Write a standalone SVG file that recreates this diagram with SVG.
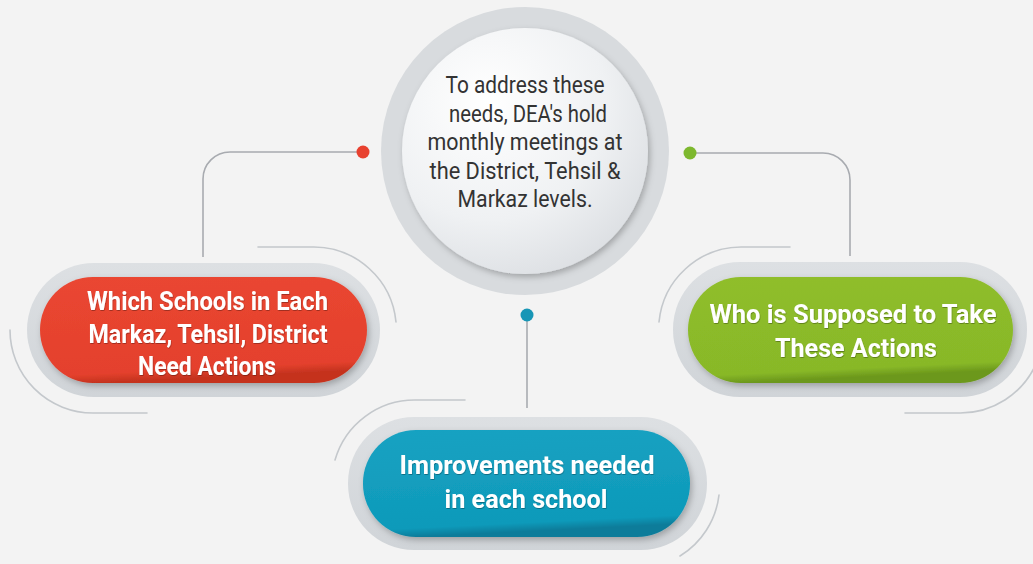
<svg xmlns="http://www.w3.org/2000/svg" width="1033" height="564" viewBox="0 0 1033 564">
<defs>
<style>
.bg{fill:#f3f3f3}
.band{fill:url(#bandG)}
.deco{fill:none;stroke:#c4c8cc;stroke-width:1.6;stroke-linecap:round}
.conn{fill:none;stroke:#a8abb0;stroke-width:1.6}
.pt{font-family:Roboto,"Liberation Sans",sans-serif;font-weight:bold;font-size:25px;fill:#ffffff;text-anchor:middle}
.ct{font-family:Roboto,"Liberation Sans",sans-serif;font-size:24px;fill:#333333;text-anchor:middle}
</style>
<linearGradient id="bandG" x1="0" y1="0" x2="0" y2="1">
<stop offset="0" stop-color="#dde0e3"/>
<stop offset="1" stop-color="#d0d4d8"/>
</linearGradient>
<linearGradient id="redG" x1="0" y1="0" x2="0.15" y2="1">
<stop offset="0" stop-color="#ea4631"/>
<stop offset="0.92" stop-color="#e4412d"/>
<stop offset="1" stop-color="#c5331f"/>
</linearGradient>
<linearGradient id="greenG" x1="0" y1="0" x2="0.15" y2="1">
<stop offset="0" stop-color="#90be2a"/>
<stop offset="0.92" stop-color="#88b828"/>
<stop offset="1" stop-color="#6c981c"/>
</linearGradient>
<linearGradient id="blueG" x1="0" y1="0" x2="0.15" y2="1">
<stop offset="0" stop-color="#16a2c2"/>
<stop offset="0.92" stop-color="#0f9aba"/>
<stop offset="1" stop-color="#0a7c9a"/>
</linearGradient>
<radialGradient id="circG" cx="0.35" cy="0.3" r="0.8">
<stop offset="0" stop-color="#ffffff"/>
<stop offset="0.6" stop-color="#eff1f3"/>
<stop offset="1" stop-color="#dadde1"/>
</radialGradient>
<filter id="sh" x="-20%" y="-20%" width="140%" height="150%">
<feDropShadow dx="2" dy="3" stdDeviation="3" flood-color="#000" flood-opacity="0.25"/>
</filter>
<filter id="tsh" x="-10%" y="-10%" width="120%" height="130%">
<feDropShadow dx="0.5" dy="1" stdDeviation="0.6" flood-color="#000" flood-opacity="0.3"/>
</filter>
</defs>
<rect class="bg" x="0" y="0" width="1033" height="564"/>

<g id="decorations">
<path class="deco" d="M10,330 A83,83 0 0 0 93,413 L147,413"/>
<path class="deco" d="M258,247 L314,247 A83,83 0 0 1 396,322"/>
<path class="deco" d="M790,247 L741,247 A83,83 0 0 0 659,322"/>
<path class="deco" d="M1036,364 A83,83 0 0 1 960,413 L905,413"/>
<path class="deco" d="M465,400 L416,400 A83,83 0 0 0 335,460"/>
<path class="deco" d="M719,495 A83,83 0 0 1 680,556"/>
</g>

<g id="connectors">
<path class="conn" d="M363,152 L230,152 A27,27 0 0 0 203,179 L203,257"/>
<path class="conn" d="M690,153 L823,153 A27,27 0 0 1 850,180 L850,256"/>
<path class="conn" d="M527,315 L527,408"/>
<circle cx="363" cy="152" r="6.5" fill="#e8412f"/>
<circle cx="690" cy="153" r="6.5" fill="#7db82e"/>
<circle cx="527" cy="315" r="6.5" fill="#1896b6"/>
</g>

<g id="center">
<circle cx="525" cy="151" r="144" fill="#d8dbde"/>
<circle cx="525" cy="151" r="123" fill="url(#circG)" filter="url(#sh)"/>
<text class="ct" x="525" y="93" textLength="159" lengthAdjust="spacingAndGlyphs">To address these</text>
<text class="ct" x="528" y="121.5" textLength="158" lengthAdjust="spacingAndGlyphs">needs, DEA's hold</text>
<text class="ct" x="525" y="150" textLength="195" lengthAdjust="spacingAndGlyphs">monthly meetings at</text>
<text class="ct" x="525" y="178.5" textLength="191" lengthAdjust="spacingAndGlyphs">the District, Tehsil &amp;</text>
<text class="ct" x="525" y="207" textLength="135" lengthAdjust="spacingAndGlyphs">Markaz levels.</text>
</g>

<g id="node-red">
<rect class="band" x="27" y="263" width="353" height="134" rx="67"/>
<rect x="40" y="277" width="327" height="106" rx="53" fill="url(#redG)" filter="url(#sh)"/>
<g filter="url(#tsh)">
<text class="pt" x="207.5" y="310" textLength="241" lengthAdjust="spacingAndGlyphs">Which Schools in Each</text>
<text class="pt" x="208" y="342.5" textLength="239" lengthAdjust="spacingAndGlyphs">Markaz, Tehsil, District</text>
<text class="pt" x="207" y="375" textLength="138" lengthAdjust="spacingAndGlyphs">Need Actions</text>
</g>
</g>

<g id="node-green">
<rect class="band" x="673" y="262" width="354" height="135" rx="67"/>
<rect x="688" y="277" width="325" height="106" rx="53" fill="url(#greenG)" filter="url(#sh)"/>
<g filter="url(#tsh)">
<text class="pt" x="853" y="323" textLength="287" lengthAdjust="spacingAndGlyphs">Who is Supposed to Take</text>
<text class="pt" x="856" y="357" textLength="162" lengthAdjust="spacingAndGlyphs">These Actions</text>
</g>
</g>

<g id="node-blue">
<rect class="band" x="348" y="417" width="359" height="133" rx="66"/>
<rect x="363" y="430" width="327" height="107" rx="53" fill="url(#blueG)" filter="url(#sh)"/>
<g filter="url(#tsh)">
<text class="pt" x="527" y="474" textLength="255" lengthAdjust="spacingAndGlyphs">Improvements needed</text>
<text class="pt" x="526" y="508" textLength="163" lengthAdjust="spacingAndGlyphs">in each school</text>
</g>
</g>
</svg>
